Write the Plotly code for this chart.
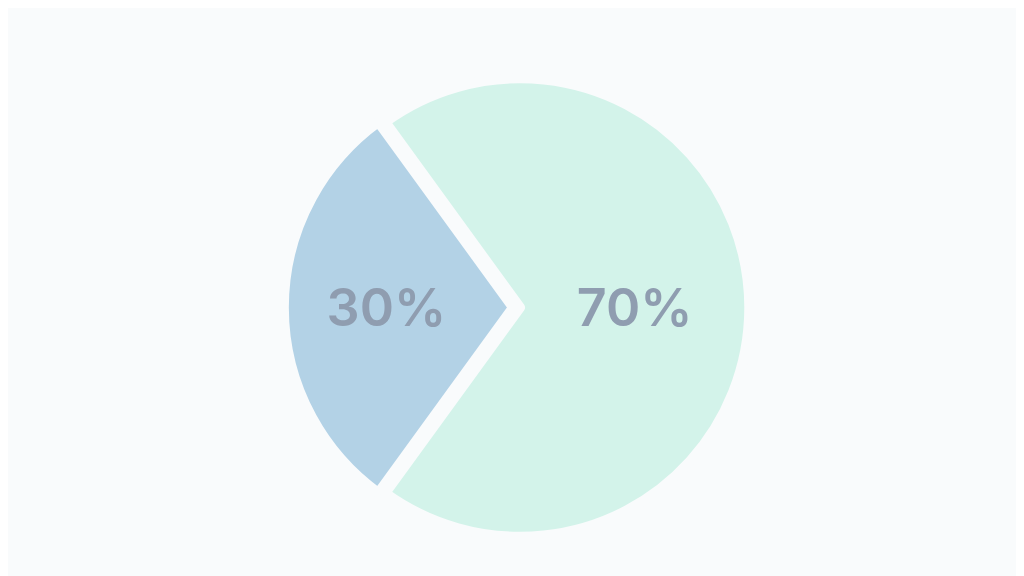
import plotly.graph_objects as go

labels = ["A", "B"]
values = [30, 70]
colors = ["#b3d2e6", "#d3f3ea"]
text_color = "#8f9db0"

fig = go.Figure()
fig.add_trace(go.Pie(
    labels=labels,
    values=values,
    sort=False,
    direction="clockwise",
    rotation=216,
    marker=dict(colors=colors, line=dict(color="#f9fbfc", width=10)),
    pull=[0.03, 0.0],
    textinfo="percent",
    texttemplate="%{percent:.0%}",
    textposition="inside",
    insidetextorientation="horizontal",
    textfont=dict(size=52, color=text_color, family="Inter", weight=600),
    hoverinfo="label+percent",
    showlegend=False,
    domain=dict(x=[0.26, 0.74], y=[0.07, 0.89]),
))

fig.update_layout(
    width=1024, height=576,
    margin=dict(l=0, r=0, t=0, b=0),
    paper_bgcolor="#f9fbfc",
    plot_bgcolor="#f9fbfc",
    uniformtext=dict(minsize=30, mode="show"),
)

fig.write_html("out.html")
